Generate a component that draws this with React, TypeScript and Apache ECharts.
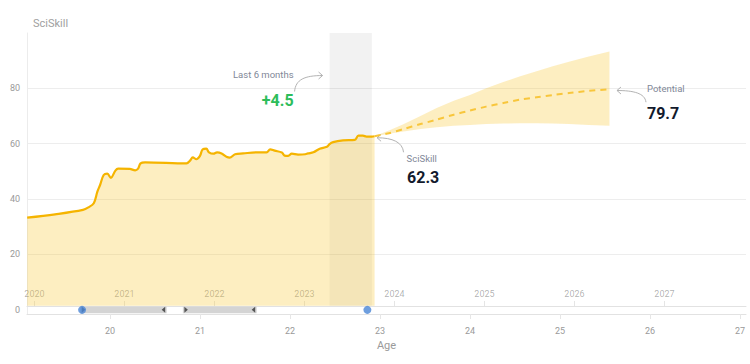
import React, { useEffect, useRef } from "react";
import * as echarts from "echarts";

const FONT = "Roboto, 'Liberation Sans', sans-serif";

// Historical skill score by age
const historyAge = [
  19.08, 19.39, 19.7, 19.76, 19.82, 19.86, 19.89, 19.93, 19.97, 20.01, 20.06, 20.09, 20.22, 20.28,
  20.31, 20.34, 20.39, 20.85, 20.89, 20.92, 20.96, 21.0, 21.03, 21.07, 21.1, 21.15, 21.19, 21.24,
  21.3, 21.33, 21.39, 21.48, 21.63, 21.74, 21.78, 21.83, 21.91, 21.94, 21.98, 22.02, 22.09, 22.17,
  22.2, 22.26, 22.33, 22.41, 22.44, 22.48, 22.59, 22.72, 22.76, 22.81, 22.85, 22.91, 22.94,
];
const historyScore = [
  33.3, 34.5, 36.1, 37.0, 38.5, 42.7, 45.1, 48.7, 49.2, 47.7, 50.3, 51.0, 50.9, 50.4,
  50.9, 52.9, 53.3, 52.9, 53.9, 55.1, 54.4, 55.6, 58.0, 58.2, 56.9, 56.4, 56.9, 56.5,
  55.2, 55.0, 56.2, 56.5, 56.9, 56.9, 58.0, 57.5, 56.8, 55.7, 55.6, 56.4, 56.1, 56.2,
  56.5, 56.9, 58.2, 58.9, 59.9, 60.6, 61.2, 61.4, 62.9, 62.9, 62.6, 62.6, 62.7,
];

// Forecast (potential) with its range
const forecastAge = [22.94, 23.1, 23.26, 23.45, 23.63, 23.82, 24.0, 24.18, 24.37, 24.55, 24.74, 24.92, 25.1, 25.32, 25.55];
const forecastMean = [62.7, 63.8, 65.3, 67.1, 68.7, 70.5, 72.0, 73.4, 74.7, 75.9, 76.8, 77.6, 78.3, 79.1, 79.7];
const forecastLow = [62.7, 63.6, 64.4, 65.3, 66.0, 66.5, 66.8, 67.1, 67.3, 67.4, 67.4, 67.3, 67.1, 66.8, 66.5];
const forecastHigh = [62.7, 64.8, 67.0, 70.0, 72.9, 75.5, 77.6, 80.0, 82.3, 84.3, 86.2, 88.0, 89.6, 91.5, 93.3];

// Decorations on the timeline strip
const recentWindow = [22.44, 22.91];
const periods = [
  [19.67, 20.63],
  [20.81, 21.63],
];
const markers = [19.69, 22.86];

// Axes
const ageTicks = [20, 21, 22, 23, 24, 25, 26, 27];
const yearTicks = [2020, 2021, 2022, 2023, 2024, 2025, 2026, 2027];
const scoreLabels = [0, 20, 40, 60, 80];
const scoreGrid = [20, 40, 60, 80];
const AGE_MIN = 19.078;
const AGE_MAX = 27.067;
const YEAR_OFFSET = 2000.839;
const STRIP = 1.5;

const currentLabel = "62.3";
const potentialLabel = "79.7";
const recentGain = "+4.5";

const LINE = "#f5b400";
const FILL = "rgba(248,200,50,0.3)";

export default function App() {
  const ref = useRef<HTMLDivElement>(null);

  useEffect(() => {
    document.body.style.margin = "0";
    const chart = echarts.init(ref.current!, null, { renderer: "svg" });
    const history = historyAge.map((a, i) => [a, historyScore[i]]);
    const mean = forecastAge.map((a, i) => [a, forecastMean[i]]);

    chart.setOption({
      animation: false,
      textStyle: { fontFamily: FONT },
      grid: { left: 27, right: 4, top: 33, bottom: 50, containLabel: false, outerBoundsMode: "none" },
      xAxis: [
        {
          type: "value",
          min: AGE_MIN,
          max: AGE_MAX,
          position: "bottom",
          name: "Age",
          nameLocation: "middle",
          nameGap: 26,
          nameTextStyle: { color: "#9a9a9a", fontSize: 11, fontFamily: FONT },
          axisLine: { onZero: false, lineStyle: { color: "#e2e2e2" } },
          axisTick: { customValues: ageTicks, length: 5, lineStyle: { color: "#e6e6e6" } },
          axisLabel: { customValues: ageTicks, color: "#9a9a9a", fontSize: 9, margin: 12, fontFamily: FONT },
          splitLine: { show: false },
        },
        {
          type: "value",
          min: AGE_MIN + YEAR_OFFSET,
          max: AGE_MAX + YEAR_OFFSET,
          position: "bottom",
          offset: -8,
          axisLine: { onZero: false, lineStyle: { color: "#e2e2e2" } },
          axisTick: { inside: true, customValues: yearTicks, length: 5, lineStyle: { color: "rgba(0,0,0,0.1)" } },
          axisLabel: {
            inside: true,
            customValues: yearTicks,
            formatter: (v: number) => String(Math.round(v)),
            margin: 8,
            color: "rgba(0,0,0,0.32)",
            fontSize: 9,
            fontFamily: FONT,
          },
          splitLine: { show: false },
        },
      ],
      yAxis: {
        type: "value",
        min: -STRIP,
        max: 100,
        name: "SciSkill",
        nameLocation: "end",
        nameGap: 4,
        nameTextStyle: { align: "left", color: "#a0a0a0", fontSize: 11, padding: [0, 0, 0, 6], fontFamily: FONT },
        axisLine: { show: true, lineStyle: { color: "#ececec" } },
        axisTick: { show: false, customValues: scoreGrid },
        axisLabel: { customValues: scoreLabels, color: "#9a9a9a", fontSize: 9, margin: 7, fontFamily: FONT },
        splitLine: { show: true, lineStyle: { color: "#ededed" } },
      },
      series: [
        {
          type: "line",
          name: "SciSkill",
          data: history,
          smooth: 0.35,
          symbol: "none",
          lineStyle: { color: LINE, width: 2.2 },
          areaStyle: { origin: STRIP, color: FILL, opacity: 1 },
          z: 3,
          markArea: {
            silent: true,
            itemStyle: { color: "rgba(0,0,0,0.05)" },
            data: [[{ xAxis: recentWindow[0], yAxis: STRIP }, { xAxis: recentWindow[1], yAxis: 100 }]],
          },
        },
        {
          type: "custom",
          name: "range",
          data: [[forecastAge[0], forecastLow[0]]],
          encode: { x: 0, y: 1 },
          silent: true,
          z: 2,
          renderItem: (params: any, api: any) => {
            const top = forecastAge.map((a, i) => api.coord([a, forecastHigh[i]]));
            const bottom = forecastAge.map((a, i) => api.coord([a, forecastLow[i]])).reverse();
            return {
              type: "polygon",
              shape: { points: top.concat(bottom) },
              style: { fill: FILL },
            };
          },
        },
        {
          type: "line",
          name: "Potential",
          data: mean,
          smooth: 0.2,
          symbol: "none",
          lineStyle: { color: "#f8c63c", width: 2, type: [6, 5] },
          z: 3,
        },
        {
          type: "custom",
          name: "periods",
          data: periods.map((p) => [p[0], p[1], 0]),
          encode: { x: [0, 1], y: 2 },
          z: 4,
          renderItem: (params: any, api: any) => {
            const a = api.coord([api.value(0), 1.2]);
            const b = api.coord([api.value(1), -1.2]);
            const yc = (a[1] + b[1]) / 2;
            return {
              type: "group",
              children: [
                {
                  type: "rect",
                  shape: { x: a[0], y: a[1], width: b[0] - a[0], height: b[1] - a[1] },
                  style: { fill: "#d4d4d4" },
                },
                {
                  type: "polygon",
                  shape: { points: [[a[0] + 1.5, yc - 3], [a[0] + 1.5, yc + 3], [a[0] + 5, yc]] },
                  style: { fill: "#555" },
                },
                {
                  type: "polygon",
                  shape: { points: [[b[0] - 1.5, yc - 3], [b[0] - 1.5, yc + 3], [b[0] - 5, yc]] },
                  style: { fill: "#555" },
                },
              ],
            };
          },
        },
        {
          type: "scatter",
          name: "markers",
          data: markers.map((m) => [m, 0]),
          symbolSize: 8,
          itemStyle: { color: "#4a86d6" },
          z: 5,
        },
      ],
    });

    const toPx = (p: number[]) => chart.convertToPixel({ xAxisIndex: 0, yAxisIndex: 0 }, p) as number[];
    const cur = toPx([historyAge[historyAge.length - 1], historyScore[historyScore.length - 1]]);
    const pot = toPx([forecastAge[forecastAge.length - 1], forecastMean[forecastMean.length - 1]]);
    const rec = toPx([recentWindow[0], 85]);

    const arrowStyle = { stroke: "#b3b3b3", lineWidth: 1, fill: "none" };
    const labelStyle = (text: string, x: number, y: number, align: string) => ({
      type: "text",
      x,
      y,
      style: { text, fill: "#7f8898", fontSize: 9.5, fontFamily: FONT, align, verticalAlign: "middle" },
    });
    const valueStyle = (text: string, x: number, y: number, align: string, fill: string) => ({
      type: "text",
      x,
      y,
      style: { text, fill, fontSize: 16, fontWeight: "bold", fontFamily: FONT, align, verticalAlign: "middle" },
    });

    const recTip = [rec[0] - 7, rec[1] + 1];
    const curTip = [cur[0] + 2.5, cur[1] + 1.5];
    const potTip = [pot[0] + 7.5, pot[1] + 1.3];

    chart.setOption({
      graphic: [
        labelStyle("Last 6 months", rec[0] - 36, rec[1] - 0.5, "right"),
        valueStyle(recentGain, rec[0] - 36, rec[1] + 26, "right", "#2dbd5a"),
        {
          type: "bezierCurve",
          shape: {
            x1: rec[0] - 35, y1: rec[1] + 17,
            cpx1: rec[0] - 34, cpy1: rec[1] + 5,
            cpx2: rec[0] - 25, cpy2: recTip[1],
            x2: recTip[0], y2: recTip[1],
          },
          style: arrowStyle,
        },
        {
          type: "polyline",
          shape: { points: [[recTip[0] - 4, recTip[1] - 3.5], recTip, [recTip[0] - 4, recTip[1] + 3.5]] },
          style: arrowStyle,
        },

        labelStyle("SciSkill", cur[0] + 32, cur[1] + 22, "left"),
        valueStyle(currentLabel, cur[0] + 32.5, cur[1] + 41, "left", "#121a2c"),
        {
          type: "bezierCurve",
          shape: {
            x1: cur[0] + 29, y1: cur[1] + 16,
            cpx1: cur[0] + 28, cpy1: cur[1] + 6,
            cpx2: cur[0] + 18, cpy2: curTip[1],
            x2: curTip[0], y2: curTip[1],
          },
          style: arrowStyle,
        },
        {
          type: "polyline",
          shape: { points: [[curTip[0] + 4, curTip[1] - 3.5], curTip, [curTip[0] + 4, curTip[1] + 3.5]] },
          style: arrowStyle,
        },

        labelStyle("Potential", pot[0] + 37.5, pot[1] - 1, "left"),
        valueStyle(potentialLabel, pot[0] + 37.5, pot[1] + 24, "left", "#121a2c"),
        {
          type: "bezierCurve",
          shape: {
            x1: pot[0] + 36.5, y1: pot[1] + 13,
            cpx1: pot[0] + 35.5, cpy1: pot[1] + 4,
            cpx2: pot[0] + 24, cpy2: potTip[1],
            x2: potTip[0], y2: potTip[1],
          },
          style: arrowStyle,
        },
        {
          type: "polyline",
          shape: { points: [[potTip[0] + 4, potTip[1] - 3.5], potTip, [potTip[0] + 4, potTip[1] + 3.5]] },
          style: arrowStyle,
        },
      ],
    });

    return () => chart.dispose();
  }, []);

  return <div ref={ref} style={{ position: "absolute", left: 0, top: 0, width: 750, height: 364 }} />;
}
